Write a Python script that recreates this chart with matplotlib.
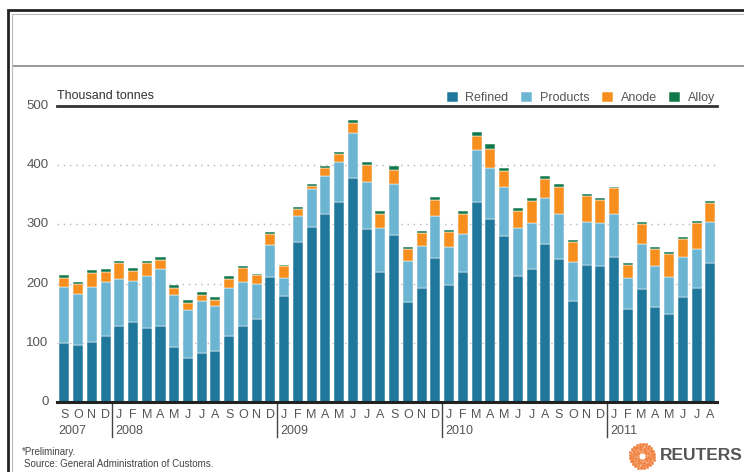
import numpy as np
import matplotlib
matplotlib.use("Agg")
import matplotlib.pyplot as plt
from matplotlib.patches import Rectangle
from matplotlib.lines import Line2D

plt.rcParams['font.family'] = ['Liberation Sans', 'DejaVu Sans']

# China copper imports by type, Sep 2007 - Aug 2011 (thousand tonnes)
months = ["S", "O", "N", "D",
          "J", "F", "M", "A", "M", "J", "J", "A", "S", "O", "N", "D",
          "J", "F", "M", "A", "M", "J", "J", "A", "S", "O", "N", "D",
          "J", "F", "M", "A", "M", "J", "J", "A", "S", "O", "N", "D",
          "J", "F", "M", "A", "M", "J", "J", "A"]
years = ["2007", "2008", "2009", "2010", "2011"]
year_start = [0, 4, 16, 28, 40]

refined = [100, 97, 102, 111,
           128, 135, 125, 128, 93, 74, 83, 86, 111, 129, 141, 211,
           179, 270, 296, 317, 337, 378, 292, 219, 282, 169, 193, 243,
           197, 220, 337, 309, 280, 212, 225, 267, 242, 170, 232, 229,
           245, 157, 191, 160, 148, 178, 193, 234]
products = [94, 86, 92, 91,
            80, 69, 88, 97, 88, 82, 87, 77, 81, 74, 58, 54,
            31, 45, 64, 65, 68, 76, 80, 75, 86, 69, 71, 71,
            64, 63, 88, 86, 83, 82, 78, 77, 76, 67, 72, 74,
            73, 53, 76, 70, 63, 67, 66, 70]
anode = [16, 16, 24, 17,
         26, 18, 21, 15, 12, 12, 10, 9, 16, 23, 15, 18,
         19, 11, 5, 14, 14, 18, 28, 24, 24, 20, 21, 28,
         26, 35, 24, 33, 28, 29, 37, 32, 46, 34, 44, 38,
         43, 22, 34, 29, 39, 31, 44, 32]
alloy = [5, 4, 5, 5,
         5, 4, 5, 5, 5, 4, 5, 5, 4, 4, 3, 4,
         3, 4, 3, 3, 3, 5, 5, 5, 7, 4, 4, 4,
         4, 4, 7, 7, 5, 5, 4, 5, 4, 3, 4, 4,
         3, 3, 3, 3, 3, 3, 3, 4]

series_names = ["Refined", "Products", "Anode", "Alloy"]
series_colors = ["#1f789b", "#6cb5d2", "#f78f1e", "#11784a"]

W, H = 744, 472
fig = plt.figure(figsize=(W / 100, H / 100), dpi=100)

def fx(px):
    return px / W

def fy(py):
    return 1 - py / H

# page frame and header rule
fig.add_artist(Rectangle((fx(8), fy(700)), fx(900), fy(10) - fy(700),
                         transform=fig.transFigure, fill=False,
                         edgecolor="#222222", linewidth=2.0))
fig.add_artist(Rectangle((fx(12), fy(700)), fx(900), fy(14) - fy(700),
                         transform=fig.transFigure, fill=False,
                         edgecolor="#bbbbbb", linewidth=0.8))
fig.add_artist(Line2D([fx(14), 1], [fy(66), fy(66)], transform=fig.transFigure,
                      color="#999999", linewidth=1.4))

ax = fig.add_axes([fx(57), fy(402), fx(717) - fx(57), fy(106) - fy(402)])
ax.set_xlim(-0.53, len(months) - 0.51)
ax.set_ylim(0, 500)

x = np.arange(len(months))
bottom = np.zeros(len(months))
for vals, name, col in zip([refined, products, anode, alloy], series_names, series_colors):
    v = np.array(vals, dtype=float)
    ax.bar(x, v, bottom=bottom, width=0.73, color=col, edgecolor="white",
           linewidth=0.35, zorder=3, label=name)
    bottom += v

for s in ax.spines.values():
    s.set_visible(False)

ax.set_yticks([0, 100, 200, 300, 400, 500])
ax.set_yticklabels(["0", "100", "200", "300", "400", "500"])
ax.tick_params(axis="y", length=0, pad=6, labelsize=9.5, labelcolor="#555555")
for t in ax.get_yticklabels():
    t.set_verticalalignment("center")
for yv in [100, 200, 300, 400]:
    ax.axhline(yv, color="#b5b5b5", linewidth=1.0, linestyle=(0, (1, 3.5)), zorder=1)
ax.axhline(500, color="#333333", linewidth=2.0, zorder=4, clip_on=False)
ax.axhline(0, color="#222222", linewidth=2.2, zorder=4, clip_on=False)

# month letters and year labels
ax.set_xticks(x)
ax.set_xticklabels(months)
ax.tick_params(axis="x", length=0, pad=5, labelsize=9, labelcolor="#555555")
for ys, yl in zip(year_start, years):
    ax.text(ys - 0.45 if ys == 0 else ys - 0.3, -0.078, yl, transform=ax.get_xaxis_transform(),
            ha="left", va="top", fontsize=9, color="#555555")
for ys in year_start[1:]:
    ax.add_line(Line2D([ys - 0.5, ys - 0.5], [0, -0.118], transform=ax.get_xaxis_transform(),
                       color="#444444", linewidth=1.0, clip_on=False))

ax.text(0, 1.012, "Thousand tonnes", transform=ax.transAxes, ha="left", va="bottom",
        fontsize=9, color="#333333")

leg = ax.legend(loc="lower right", bbox_to_anchor=(1.0, 1.0), ncol=4, frameon=False,
                fontsize=9, handlelength=0.9, handleheight=0.9, handletextpad=0.6,
                columnspacing=1.0, borderaxespad=0.15, borderpad=0.0)
for t in leg.get_texts():
    t.set_color("#555555")

# footnotes
fig.text(fx(22), fy(452), "*Preliminary.", ha="left", va="center", fontsize=7, color="#444444")
fig.text(fx(24), fy(464), "Source: General Administration of Customs.", ha="left", va="center",
         fontsize=7, color="#444444")

# Reuters mark
cx, cy, r = 642, 456, 12
lax = fig.add_axes([fx(cx - r - 2), fy(cy + r + 2), fx(2 * r + 4), fy(cy - r - 2) - fy(cy + r + 2)])
lax.set_xlim(-1.15, 1.15)
lax.set_ylim(-1.15, 1.15)
lax.axis("off")
for k, rr in enumerate(np.linspace(0.35, 1.0, 6)):
    n = int(10 + 14 * rr)
    ang = np.linspace(0, 2 * np.pi, n, endpoint=False) + k * 0.3
    lax.scatter(rr * np.cos(ang), rr * np.sin(ang), s=2.2 + 2.5 * rr, color="#f07f3c",
                linewidths=0, alpha=0.9)
fig.text(fx(660), fy(456), "REUTERS", ha="left", va="center", fontsize=12.5,
         fontweight="bold", color="#555555")

fig.savefig("out.png", dpi=100)
